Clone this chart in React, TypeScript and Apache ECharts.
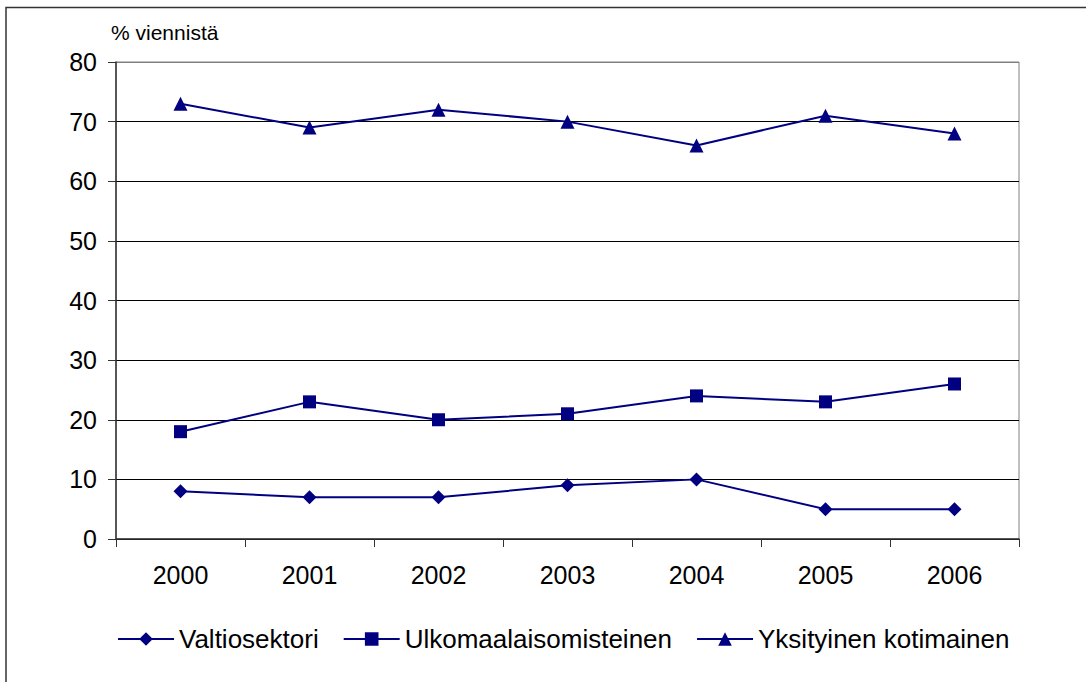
import React, { useEffect, useRef } from "react";
import * as echarts from "echarts";

const years = ["2000", "2001", "2002", "2003", "2004", "2005", "2006"];
const valtiosektori = [8, 7, 7, 9, 10, 5, 5];
const ulkomaalaisomisteinen = [18, 23, 20, 21, 24, 23, 26];
const yksityinenKotimainen = [73, 69, 72, 70, 66, 71, 68];
const seriesNames = ["Valtiosektori", "Ulkomaalaisomisteinen", "Yksityinen kotimainen"];
const unitLabel = "% viennistä";

const FONT = "'Liberation Sans', Arial, sans-serif";
const NAVY = "#000080";

export default function App() {
  const ref = useRef<HTMLDivElement>(null);
  useEffect(() => {
    if (!ref.current) return;
    const chart = echarts.init(ref.current, null, { renderer: "svg" });
    const mk = (name: string, data: number[], symbol: string, size: number) => ({
      name,
      type: "line",
      data,
      symbol,
      symbolSize: size,
      showAllSymbol: true,
      lineStyle: { color: NAVY, width: 2 },
      itemStyle: { color: NAVY, borderWidth: 0 },
      emphasis: { disabled: true },
    });
    chart.setOption({
      animation: false,
      backgroundColor: "#ffffff",
      textStyle: { fontFamily: FONT },
      title: {
        text: unitLabel,
        left: 106,
        top: 17,
        textStyle: { fontFamily: FONT, fontSize: 21, fontWeight: "normal", color: "#000" },
      },
      graphic: [
        {
          type: "rect",
          shape: { x: 6, y: 7.5, width: 1200, height: 800 },
          style: { fill: "none", stroke: "#333", lineWidth: 1.5 },
          silent: true,
        },
      ],
      legend: {
        left: 117,
        top: 626,
        padding: 0,
        itemWidth: 56,
        itemHeight: 17,
        itemGap: 24,
        textStyle: { fontFamily: FONT, fontSize: 26, color: "#000" },
        data: seriesNames,
      },
      grid: {
        left: 116,
        top: 62,
        width: 903,
        height: 477,
        show: true,
        borderColor: "#808080",
        borderWidth: 1,
        backgroundColor: "transparent",
      },
      xAxis: {
        type: "category",
        data: years,
        boundaryGap: true,
        axisLine: { lineStyle: { color: "#333", width: 1.5 } },
        axisTick: { show: true, length: 8, inside: false, lineStyle: { color: "#333" } },
        axisLabel: { fontFamily: FONT, fontSize: 25, color: "#000", margin: 23 },
        splitLine: { show: false },
      },
      yAxis: {
        type: "value",
        min: 0,
        max: 80,
        interval: 10,
        axisLine: { show: true, lineStyle: { color: "#333", width: 1.5 } },
        axisTick: { show: true, length: 8, lineStyle: { color: "#333" } },
        axisLabel: { fontFamily: FONT, fontSize: 25, color: "#000", margin: 19 },
        splitLine: {
          show: true,
          lineStyle: {
            color: ["#000", "#000", "#000", "#000", "#000", "#000", "#000", "#000", "#808080"],
            width: 1,
          },
        },
      },
      series: [
        mk(seriesNames[0], valtiosektori, "diamond", 14),
        mk(seriesNames[1], ulkomaalaisomisteinen, "rect", 13),
        mk(seriesNames[2], yksityinenKotimainen, "triangle", 14),
      ],
    });
    return () => chart.dispose();
  }, []);
  return (
    <div
      ref={ref}
      style={{ position: "fixed", left: 0, top: 0, width: 1086, height: 682, background: "#fff" }}
    />
  );
}
